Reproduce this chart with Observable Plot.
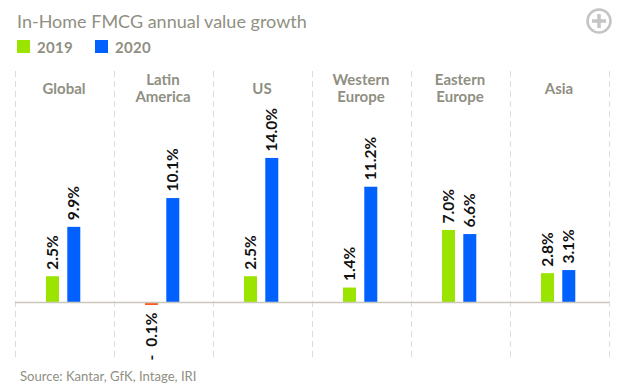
<!DOCTYPE html>
<html>
<head>
<meta charset="utf-8">
<script src="https://cdn.jsdelivr.net/npm/d3@7"></script>
<script src="https://cdn.jsdelivr.net/npm/@observablehq/plot@0.6"></script>
<style>
  html, body { margin: 0; padding: 0; background: #fff; }
  #page { position: relative; width: 626px; height: 385px; overflow: hidden; font-family: Lato, sans-serif; }
  #title { position: absolute; left: 17px; top: 10px; font-size: 18px; color: #8f8f82; white-space: nowrap; }
  .sw { position: absolute; top: 40px; width: 13px; height: 13px; }
  .lg { position: absolute; top: 38px; font-size: 15px; font-weight: 700; color: #8f8f82; letter-spacing: .3px; }
  #chart { position: absolute; left: 0; top: 60px; }
  #chart svg { display: block; }
  #source { position: absolute; left: 20px; top: 368px; font-size: 13.1px; color: #8f8f82; white-space: nowrap; }
  #plus { position: absolute; left: 586px; top: 8px; }
</style>
</head>
<body>
<div id="page">
  <div id="title">In-Home FMCG annual value growth</div>
  <div class="sw" style="left:17px;background:#9be400"></div><div class="lg" style="left:37px">2019</div>
  <div class="sw" style="left:95px;background:#0061ff"></div><div class="lg" style="left:115px">2020</div>
  <svg id="plus" width="26" height="26" viewBox="0 0 26 26">
    <circle cx="13" cy="13" r="11.5" fill="none" stroke="#c4c4c4" stroke-width="2.5"/>
    <path d="M13 6V20M6 13H20" stroke="#c4c4c4" stroke-width="3.5"/>
  </svg>
  <div id="chart"></div>
  <div id="source">Source: Kantar, GfK, Intage, IRI</div>
</div>
<script>
const regions = ["Global", "Latin America", "US", "Western Europe", "Eastern Europe", "Asia"];
const regionLabels = ["Global", "Latin\nAmerica", "US", "Western\nEurope", "Eastern\nEurope", "Asia"];
const years = ["2019", "2020"];
// Bar heights as drawn in the picture (the Global 2020 bar is drawn shorter than its printed label).
const heights2019 = [2.5, -0.1, 2.5, 1.4, 7.0, 2.8];
const heights2020 = [7.3, 10.1, 14.0, 11.2, 6.6, 3.1];
// Labels as printed in the picture.
const labels2019 = ["2.5%", "-\u20020.1%", "2.5%", "1.4%", "7.0%", "2.8%"];
const labels2020 = ["9.9%", "10.1%", "14.0%", "11.2%", "6.6%", "3.1%"];
const yearColors = {"2019": "#9be400", "2020": "#0061ff"};
const negativeColor = "#ff5a1f";
const grey = "#8f8f82";

const rows = regions.flatMap((region, i) => [
  {region, year: "2019", value: heights2019[i], label: labels2019[i]},
  {region, year: "2020", value: heights2020[i], label: labels2020[i]}
]);
const positive = rows.filter(d => d.value >= 0);
const negative = rows.filter(d => d.value < 0);
const labelFont = {fontSize: 15.5, fontWeight: 700, fill: "#111", fontFamily: "Lato, sans-serif"};

const chart = Plot.plot({
  width: 626,
  height: 300,
  marginLeft: 14,
  marginRight: 17,
  marginTop: 11,
  marginBottom: 3,
  fx: {domain: regions, padding: 0, axis: null},
  x: {domain: years, paddingInner: 0.39, paddingOuter: 1.519, align: 0.479, round: false, axis: null},
  y: {domain: [-5.35, 22.45], axis: null},
  marks: [
    Plot.frame({anchor: "left", stroke: "#dddcd6", strokeDasharray: "5,5"}),
    Plot.frame({anchor: "right", stroke: "#dddcd6", strokeDasharray: "5,5"}),
    Plot.barY(positive, {fx: "region", x: "year", y: "value", fill: d => yearColors[d.year]}),
    Plot.barY(negative, {fx: "region", x: "year", y: "value", fill: negativeColor, insetBottom: -2}),
    Plot.ruleY([0], {stroke: "#c9c7b9", strokeWidth: 1.5}),
    Plot.text(positive, {
      fx: "region", x: "year", y: "value", text: "label", rotate: -90, textAnchor: "start",
      dy: -7, ...labelFont
    }),
    Plot.text(negative, {
      fx: "region", x: "year", y: "value", text: "label", rotate: -90, textAnchor: "end",
      dy: 9, ...labelFont
    }),
    Plot.text(regions, {
      fx: d => d, text: (d, i) => regionLabels[i], frameAnchor: "top", lineAnchor: "middle",
      dx: -1, dy: 17, lineHeight: 1.13, fontSize: 15, fontWeight: 700, fill: grey, fontFamily: "Lato, sans-serif"
    })
  ]
});
document.getElementById("chart").appendChild(chart);
</script>
</body>
</html>
